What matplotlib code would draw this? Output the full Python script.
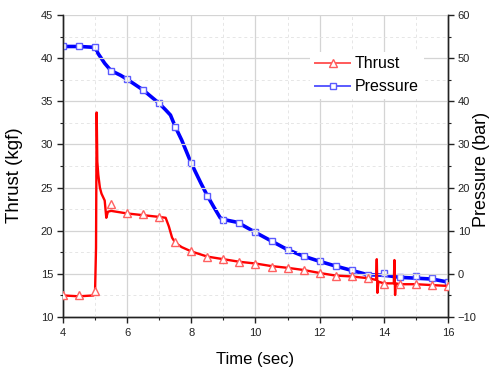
import matplotlib
matplotlib.use("Agg")
import matplotlib.pyplot as plt
from matplotlib.lines import Line2D
from matplotlib.ticker import MultipleLocator

plt.rcParams['font.family'] = ['Liberation Sans', 'DejaVu Sans']

# Thrust trace (kgf), breakpoints
thrust_t = [4.0, 4.5, 4.95, 5.0, 5.03, 5.05, 5.07, 5.1, 5.15, 5.2, 5.3, 5.35, 5.4, 5.5,
            6.0, 6.5, 7.0, 7.2, 7.3, 7.4, 7.5, 7.7, 8.0, 8.5, 9.0, 9.5, 10.0, 10.5,
            11.0, 11.5, 12.0, 12.5, 13.0, 13.5, 13.76, 13.78, 13.8, 13.83, 14.0,
            14.31, 14.33, 14.35, 14.37, 14.5, 15.0, 15.5, 16.0]
thrust_v = [12.5, 12.4, 12.5, 13.0, 18.0, 33.7, 28.0, 26.5, 25.0, 24.3, 23.5, 21.5, 22.2, 22.3,
            22.0, 21.8, 21.6, 21.5, 20.5, 19.2, 18.6, 18.1, 17.6, 17.0, 16.7, 16.4, 16.2, 15.9,
            15.7, 15.45, 15.1, 14.8, 14.7, 14.5, 14.3, 16.7, 12.8, 14.1, 13.9,
            13.9, 16.6, 12.55, 13.9, 13.8, 13.8, 13.7, 13.6]

# Pressure trace (bar)
press_t = [4.0, 4.5, 5.0, 5.1, 5.3, 5.45, 5.5, 5.8, 6.0, 6.5, 7.0, 7.2, 7.35, 7.5, 7.7,
           8.0, 8.3, 8.5, 8.7, 8.9, 9.0, 9.4, 9.5, 10.0, 10.5, 11.0, 11.5, 12.0, 12.5,
           13.0, 13.5, 14.0, 14.5, 15.0, 15.5, 16.0]
press_v = [52.7, 52.7, 52.5, 51.0, 48.8, 47.5, 47.1, 46.0, 45.1, 42.6, 39.5, 38.0, 36.8, 34.1, 31.0,
           25.6, 21.0, 18.1, 15.5, 13.0, 12.6, 12.0, 11.7, 9.6, 7.6, 5.6, 4.1, 2.9, 1.8,
           0.8, -0.2, -0.3, -0.8, -1.0, -1.2, -1.9]

# Symbols every 0.5 s
mark_t = [4.0 + 0.5 * i for i in range(25)]
thrust_marks = [12.6, 12.5, 13.0, 23.1, 22.1, 21.9, 21.6, 18.7, 17.65, 17.0, 16.7, 16.4,
                16.2, 15.85, 15.7, 15.45, 15.1, 14.75, 14.7, 14.55, 13.8, 13.8, 13.8, 13.7, 13.6]
press_marks = [52.8, 52.8, 52.5, 47.1, 45.1, 42.6, 39.5, 34.1, 25.6, 18.0, 12.6, 11.7,
               9.6, 7.6, 5.6, 4.1, 2.9, 1.8, 0.8, -0.2, 0.2, -0.8, -0.4, -0.9, -1.9]

fig = plt.figure(figsize=(4.92, 3.70), dpi=100)
ax = fig.add_axes([0.128, 0.1432, 0.7826, 0.8163])
ax2 = ax.twinx()

# thrust on top of pressure
ax.set_zorder(ax2.get_zorder() + 1)
ax.patch.set_visible(False)

ax2.plot(press_t, press_v, color='#0000ff', lw=2.6, solid_joinstyle='round')
ax2.plot(mark_t, press_marks, ls='none', marker='s', ms=5, mfc='white',
         mec='#5a5aff', mew=1.0, zorder=5)

ax.plot(thrust_t, thrust_v, color='#ff0000', lw=1.7, solid_joinstyle='round')
ax.plot(mark_t, thrust_marks, ls='none', marker='^', ms=5.8, mfc='white',
        mec='#ff6060', mew=1.0, zorder=5)

ax.set_xlim(4, 16)
ax.set_ylim(10, 45)
ax2.set_ylim(-10, 60)

ax.xaxis.set_major_locator(MultipleLocator(2))
ax.xaxis.set_minor_locator(MultipleLocator(1))
ax.yaxis.set_major_locator(MultipleLocator(5))
ax.yaxis.set_minor_locator(MultipleLocator(2.5))
ax2.yaxis.set_major_locator(MultipleLocator(10))
ax2.yaxis.set_minor_locator(MultipleLocator(5))

ax2.grid(False)
ax.grid(True, which='major', color='#d4d4d4', lw=0.9, ls='-')
ax.grid(True, which='minor', color='#e6e6e6', lw=0.7, ls=(0, (3, 3)))
ax.set_axisbelow(True)

for a in (ax, ax2):
    a.spines['top'].set_visible(False)
    for s in a.spines.values():
        s.set_linewidth(1.0)
        s.set_color('#222222')
    a.tick_params(which='major', direction='out', length=4, width=1.0,
                  labelsize=8, pad=3, colors='#222222')
    a.tick_params(which='minor', direction='out', length=2.5, width=0.8, colors='#222222')
ax.tick_params(axis='x', pad=4)

ax.set_xlabel('Time (sec)', fontsize=12)
ax.set_ylabel('Thrust (kgf)', fontsize=13.5)
ax2.set_ylabel('Pressure (bar)', fontsize=13)
ax.xaxis.set_label_coords(0.499, -0.14)
ax.yaxis.set_label_coords(-0.125, 0.47)
ax2.yaxis.set_label_coords(1.088, 0.49)
ax.xaxis.label.set_va('center')
ax.yaxis.label.set_va('center')
ax2.yaxis.label.set_va('center')

handles = [
    Line2D([], [], color='#ff5a5a', lw=1.4, marker='^', ms=5.8, mfc='white', mec='#ff5a5a'),
    Line2D([], [], color='#5a5aff', lw=1.4, marker='s', ms=5, mfc='white', mec='#5a5aff'),
]
leg = ax.legend(handles, ['Thrust', 'Pressure'], loc='center', bbox_to_anchor=(0.79, 0.80),
                frameon=True, framealpha=1.0, edgecolor='none', fontsize=11.5,
                handlelength=2.2, handletextpad=0.3, labelspacing=0.5, borderpad=0.3,
                fancybox=False)

fig.savefig('out.png', dpi=100)
